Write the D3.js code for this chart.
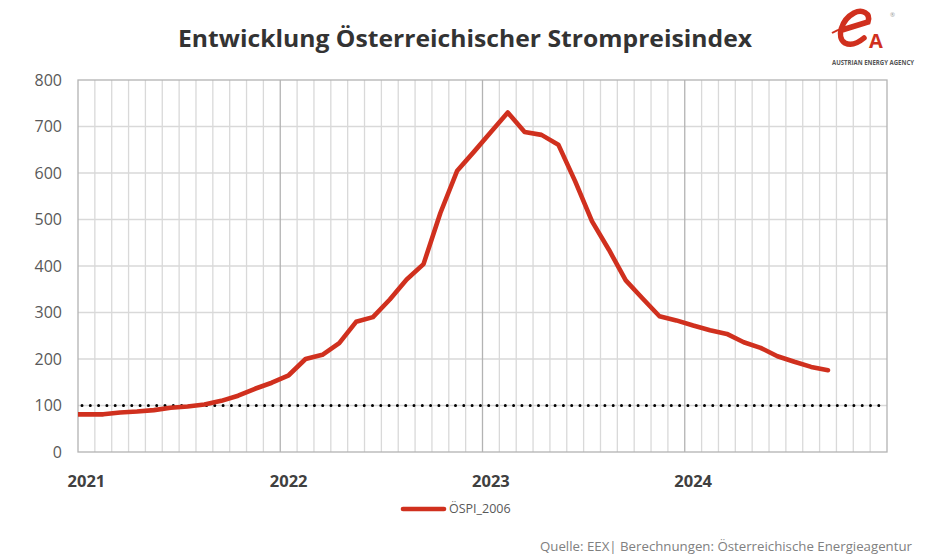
<!DOCTYPE html>
<html><head><meta charset="utf-8">
<script src="https://cdn.jsdelivr.net/npm/d3@7"></script>
<style>body{margin:0;background:#fff;}svg{display:block;font-family:"Open Sans",sans-serif;}</style>
</head><body><svg id="c" width="930" height="560"></svg>
<script>
const months = ["2020-12",
 "2021-01","2021-02","2021-03","2021-04","2021-05","2021-06","2021-07","2021-08","2021-09","2021-10","2021-11","2021-12",
 "2022-01","2022-02","2022-03","2022-04","2022-05","2022-06","2022-07","2022-08","2022-09","2022-10","2022-11","2022-12",
 "2023-01","2023-02","2023-03","2023-04","2023-05","2023-06","2023-07","2023-08","2023-09","2023-10","2023-11","2023-12",
 "2024-01","2024-02","2024-03","2024-04","2024-05","2024-06","2024-07","2024-08","2024-09"];
const ospi = [81,
 81,81,85,87,90,95,98,102,110,121,136,149,
 165,200,209,234,280,290,328,371,404,514,605,646,
 688,730,688,682,661,582,496,435,369,330,292,283,
 272,262,254,236,224,206,194,183,176];
const yearLabels = ["2021","2022","2023","2024"];
const yTicks = [0,100,200,300,400,500,600,700,800];
const baseline = 100;
const seriesName = "ÖSPI_2006";
const title = "Entwicklung Österreichischer Strompreisindex";
const source = "Quelle: EEX| Berechnungen: Österreichische Energieagentur";

const svg = d3.select("#c");
const L = 78, R = 887, T = 80, B = 452;
const monthIndex = m => { const [y, mo] = m.split("-").map(Number); return (y - 2021) * 12 + (mo - 1); };
const x = d3.scaleLinear().domain([0, 48]).range([L, R]);
const y = d3.scaleLinear().domain([0, 800]).range([B, T]);

svg.append("defs").append("clipPath").attr("id", "clip")
  .append("rect").attr("x", L).attr("y", T - 10).attr("width", R - L).attr("height", B - T + 20);

// monthly vertical gridlines
const g = svg.append("g");
g.selectAll("line.vm").data(d3.range(1, 48).filter(i => i % 12 !== 0)).join("line")
  .attr("x1", d => x(d)).attr("x2", d => x(d)).attr("y1", T).attr("y2", B)
  .attr("stroke", "#d9d9d9").attr("stroke-width", 1.3);
g.selectAll("line.hg").data(yTicks.filter(v => v > 0 && v < 800)).join("line")
  .attr("x1", L).attr("x2", R).attr("y1", d => y(d)).attr("y2", d => y(d))
  .attr("stroke", "#d9d9d9").attr("stroke-width", 1.3);
g.selectAll("line.vy").data([12, 24, 36]).join("line")
  .attr("x1", d => x(d)).attr("x2", d => x(d)).attr("y1", T).attr("y2", B)
  .attr("stroke", "#b3b3b3").attr("stroke-width", 1.3);
g.append("rect").attr("x", L).attr("y", T).attr("width", R - L).attr("height", B - T)
  .attr("fill", "none").attr("stroke", "#b3b3b3").attr("stroke-width", 1.3);

// y axis labels
svg.append("g").selectAll("text").data(yTicks).join("text")
  .attr("x", 62).attr("y", d => y(d)).attr("dy", "0.35em").attr("text-anchor", "end")
  .attr("font-size", 16).attr("fill", "#595959").text(d => d);

// x year labels (at January category centre)
svg.append("g").selectAll("text").data(yearLabels).join("text")
  .attr("x", d => x(monthIndex(d + "-01") + 0.5)).attr("y", 487).attr("text-anchor", "middle")
  .attr("font-size", 16.5).attr("font-weight", "bold").attr("fill", "#404040").text(d => d);

// baseline dotted
svg.append("line").attr("x1", L + 4).attr("x2", R).attr("y1", y(baseline)).attr("y2", y(baseline))
  .attr("stroke", "#000").attr("stroke-width", 3).attr("stroke-linecap", "round")
  .attr("stroke-dasharray", "0 8.3");

// series line
const line = d3.line().x((d, i) => x(monthIndex(months[i]) + 0.5)).y(d => y(d));
svg.append("path").datum(ospi).attr("clip-path", "url(#clip)")
  .attr("d", line).attr("fill", "none").attr("stroke", "#d0301e").attr("stroke-width", 4.6)
  .attr("stroke-linejoin", "round").attr("stroke-linecap", "round");

// title
svg.append("text").attr("x", 465).attr("y", 47).attr("text-anchor", "middle")
  .attr("font-size", 24).attr("font-weight", "bold").attr("fill", "#333")
  .attr("textLength", 574).attr("lengthAdjust", "spacingAndGlyphs").text(title);

// legend
svg.append("line").attr("x1", 403).attr("x2", 444).attr("y1", 509).attr("y2", 509)
  .attr("stroke", "#d0301e").attr("stroke-width", 4.6).attr("stroke-linecap", "round");
svg.append("text").attr("x", 449).attr("y", 509).attr("dy", "0.35em")
  .attr("font-size", 12.5).attr("fill", "#595959").text(seriesName);

// source
svg.append("text").attr("x", 912).attr("y", 551).attr("text-anchor", "end")
  .attr("font-size", 13.5).attr("fill", "#808080")
  .attr("textLength", 372).attr("lengthAdjust", "spacingAndGlyphs").text(source);

// logo (graphic mark + wordmark)
const lg = svg.append("g");
lg.append("path").attr("d", "M832,33 Q842,27 856,27")
  .attr("fill", "none").attr("stroke", "#d0301e").attr("stroke-width", 2);
lg.append("path").attr("d", "M842,30 L868,22 C871,13 862,9 854,13 C841,20 836,38 845,43 C851,46 858,43 864,38")
  .attr("fill", "none").attr("stroke", "#d0301e").attr("stroke-width", 5.5).attr("stroke-linecap", "round");
lg.append("text").attr("x", 876).attr("y", 48).attr("text-anchor", "middle")
  .attr("font-size", 20).attr("font-weight", "bold").attr("fill", "#d0301e").text("A");
lg.append("text").attr("x", 890).attr("y", 17).attr("font-size", 6).attr("fill", "#999").text("®");
lg.append("text").attr("x", 873).attr("y", 65).attr("text-anchor", "middle")
  .attr("font-size", 7).attr("font-weight", "bold").attr("fill", "#555")
  .attr("textLength", 82).attr("lengthAdjust", "spacingAndGlyphs").text("AUSTRIAN ENERGY AGENCY");
</script></body></html>
